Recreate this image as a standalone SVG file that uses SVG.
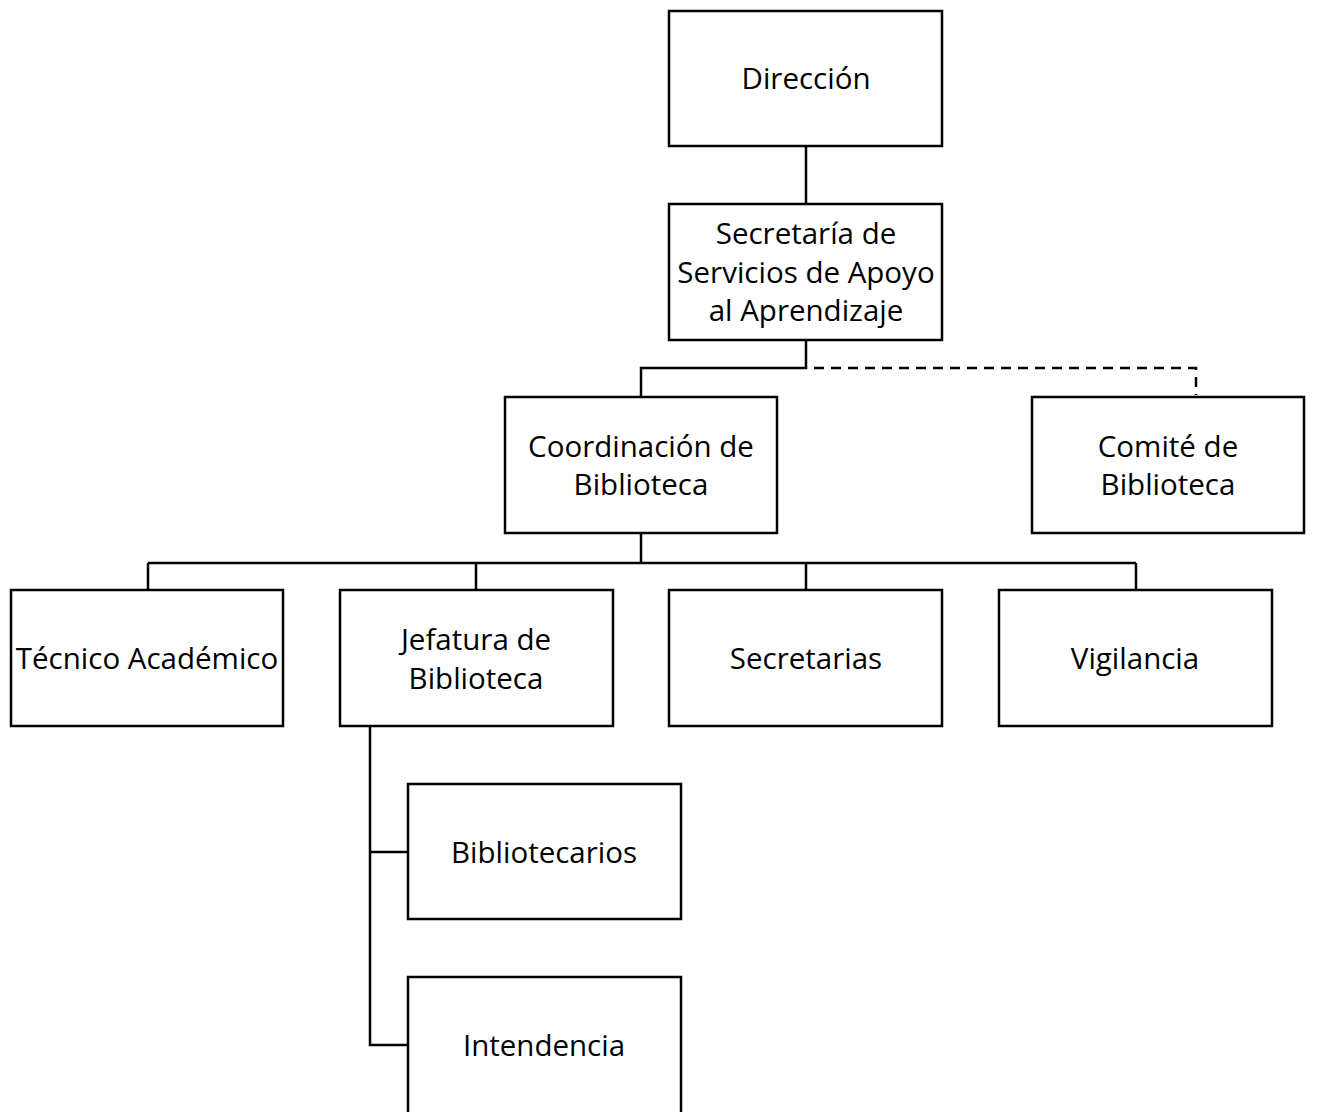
<svg xmlns="http://www.w3.org/2000/svg" width="1338" height="1112" viewBox="0 0 1338 1112">
<style>
.box{fill:#fff;stroke:#000;stroke-width:2.5}
.c{fill:none;stroke:#000;stroke-width:2.5}
.d{fill:none;stroke:#000;stroke-width:2.5;stroke-dasharray:10 7}
text{font-family:"Open Sans","Liberation Sans",sans-serif;font-size:29.5px;fill:#000;text-anchor:middle}
</style>
<rect width="1338" height="1112" fill="#fff"/>
<g id="connectors">
<path class="c" d="M806 146V204"/>
<path class="c" d="M806 340V368H641V397"/>
<path class="d" d="M814 368H1196V395"/>
<path class="c" d="M641 533V563M148 563H1136M148 563V590M476 563V590M806 563V590M1136 563V590"/>
<path class="c" d="M370 726V1045H408M370 852H408"/>
</g>
<g id="direccion"><rect class="box" x="669" y="11" width="273" height="135"/><text x="806" y="89">Dirección</text></g>
<g id="secretaria"><rect class="box" x="669" y="204" width="273" height="136"/><text x="806" y="244">Secretaría de</text><text x="806" y="283">Servicios de Apoyo</text><text x="806" y="321">al Aprendizaje</text></g>
<g id="coordinacion"><rect class="box" x="505" y="397" width="272" height="136"/><text x="641" y="457">Coordinación de</text><text x="641" y="495">Biblioteca</text></g>
<g id="comite"><rect class="box" x="1032" y="397" width="272" height="136"/><text x="1168" y="457">Comité de</text><text x="1168" y="495">Biblioteca</text></g>
<g id="tecnico"><rect class="box" x="11" y="590" width="272" height="136"/><text x="147" y="669">Técnico Académico</text></g>
<g id="jefatura"><rect class="box" x="340" y="590" width="273" height="136"/><text x="476" y="650">Jefatura de</text><text x="476" y="689">Biblioteca</text></g>
<g id="secretarias"><rect class="box" x="669" y="590" width="273" height="136"/><text x="806" y="669">Secretarias</text></g>
<g id="vigilancia"><rect class="box" x="999" y="590" width="273" height="136"/><text x="1135" y="669">Vigilancia</text></g>
<g id="bibliotecarios"><rect class="box" x="408" y="784" width="273" height="135"/><text x="544" y="863">Bibliotecarios</text></g>
<g id="intendencia"><rect class="box" x="408" y="977" width="273" height="138"/><text x="544" y="1056">Intendencia</text></g>
</svg>
